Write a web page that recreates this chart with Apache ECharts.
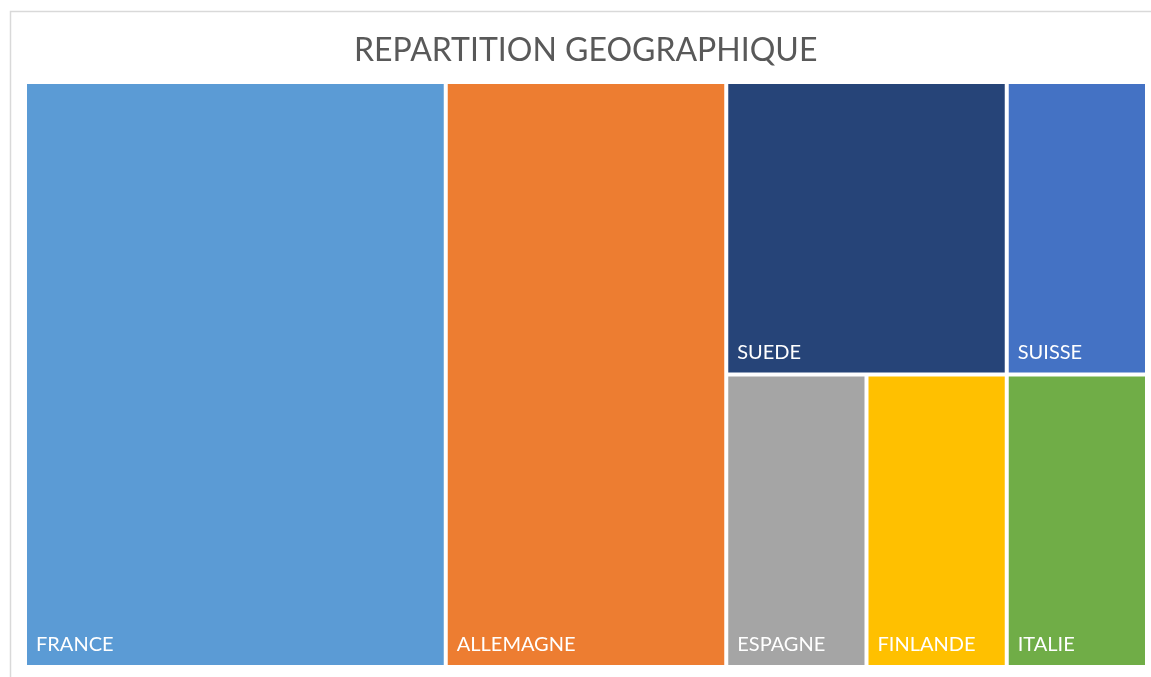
<!DOCTYPE html>
<html>
<head>
<meta charset="utf-8">
<title>Répartition géographique</title>
<script src="https://cdn.jsdelivr.net/npm/echarts@6/dist/echarts.min.js"></script>
<style>
html, body { margin: 0; padding: 0; background: #fff; }
#chart { width: 1151px; height: 677px; }
</style>
</head>
<body>
<div id="chart"></div>
<script>
const pays = ['FRANCE', 'ALLEMAGNE', 'SUEDE', 'SUISSE', 'ESPAGNE', 'FINLANDE', 'ITALIE']
const valeurs = [30, 20, 10, 5, 5, 5, 5]
const couleurs = ['#5b9bd5', '#ed7d31', '#264478', '#4472c4', '#a5a5a5', '#ffc000', '#70ad47']

function feuille(i) {
  return { name: pays[i], value: valeurs[i], itemStyle: { color: couleurs[i] } }
}
function groupe(enfants) {
  return { name: '', children: enfants }
}

// regroupement pour retrouver la disposition d'Excel
const donnees = [
  feuille(0),
  feuille(1),
  groupe([
    groupe([feuille(2), feuille(3)]),
    groupe([feuille(4), groupe([feuille(5), feuille(6)])])
  ])
]

const chart = echarts.init(document.getElementById('chart'))
chart.setOption({
  animation: false,
  title: {
    text: 'REPARTITION GEOGRAPHIQUE',
    left: 349,
    top: 30,
    textStyle: { fontFamily: 'Lato', fontSize: 32, fontWeight: 'normal', color: '#595959' }
  },
  graphic: [{
    type: 'rect',
    silent: true,
    shape: { x: 10.5, y: 11.5, width: 1200, height: 700 },
    style: { fill: 'none', stroke: '#d9d9d9', lineWidth: 1.5 }
  }],
  series: [{
    type: 'treemap',
    left: 27,
    top: 84,
    width: 1118,
    height: 581,
    roam: false,
    nodeClick: false,
    breadcrumb: { show: false },
    sort: false,
    squareRatio: 1.1,
    itemStyle: { borderWidth: 0, gapWidth: 4, borderColor: '#fff' },
    label: {
      show: true,
      position: 'insideBottomLeft',
      color: '#fff',
      fontFamily: 'Lato',
      fontSize: 20,
      padding: [0, 0, 10, 9]
    },
    upperLabel: { show: false },
    data: donnees
  }]
})
</script>
</body>
</html>
